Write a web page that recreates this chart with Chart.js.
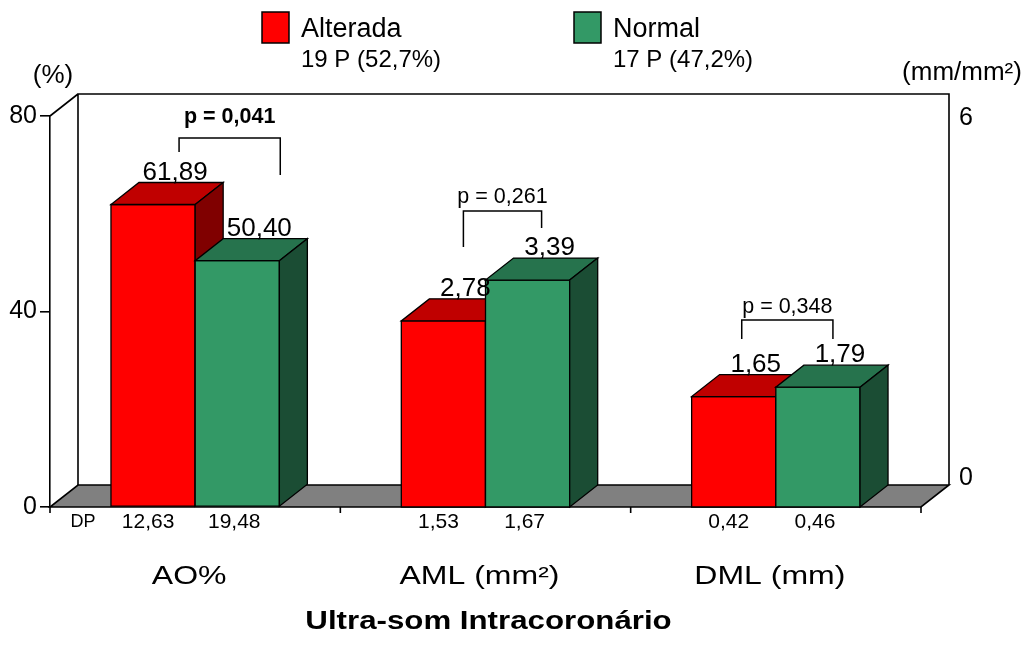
<!DOCTYPE html>
<html><head><meta charset="utf-8">
<script src="https://cdn.jsdelivr.net/npm/chart.js@4/dist/chart.umd.min.js"></script>
<style>html,body{margin:0;padding:0;background:#fff;overflow:hidden}#wrap{width:1032px;height:649px}</style>
</head><body><div id="wrap"><canvas id="c" width="1032" height="649"></canvas></div>
<script>
// ---------- data ----------
const categories = ['AO%', 'AML (mm²)', 'DML (mm)'];
const seriesNames = ['Alterada', 'Normal'];
const seriesCounts = ['19 P (52,7%)', '17 P (47,2%)'];
const alteradaPct = [61.89, null, null];
const normalPct = [50.40, null, null];
const alteradaMm = [null, 2.78, 1.65];
const normalMm = [null, 3.39, 1.79];
const dpAlterada = ['12,63', '1,53', '0,42'];
const dpNormal = ['19,48', '1,67', '0,46'];
const pValues = ['p = 0,041', 'p = 0,261', 'p = 0,348'];
const pBold = [true, false, false];
const leftTicks = [0, 40, 80];
const rightTickLabels = ['0', '6'];
const leftUnit = '(%)';
const rightUnit = '(mm/mm²)';
const title = 'Ultra-som Intracoronário';

// ---------- styles / layout ----------
const FONT = "'Liberation Sans', Arial, Helvetica, sans-serif";
const DX = 28, DY = -22;
const palette = [
  {front: '#FF0000', top: '#C00000', side: '#800000'},
  {front: '#339966', top: '#26734D', side: '#1B4D34'}
];
// bracket layout: x offsets relative to bar centers, y in pixels
const bracketLayout = [
  {o1: 26, o2: 43, top: 138, l: 152, r: 175, ty: 123},
  {o1: 20, o2: 14, top: 211, l: 247, r: 228, ty: 203},
  {o1: 8,  o2: 15, top: 320, l: 339, r: 339, ty: 313}
];

const fmt = v => v.toFixed(2).replace('.', ',');

function stretchText(ctx, text, x, y, sx) {
  ctx.save(); ctx.translate(x, y); ctx.scale(sx, 1);
  ctx.textAlign = 'center'; ctx.textBaseline = 'middle';
  ctx.fillText(text, 0, 0); ctx.restore();
}

function poly(ctx, pts, fill) {
  ctx.beginPath(); ctx.moveTo(pts[0][0], pts[0][1]);
  for (let k = 1; k < pts.length; k++) ctx.lineTo(pts[k][0], pts[k][1]);
  ctx.closePath(); ctx.fillStyle = fill; ctx.fill(); ctx.stroke();
}

const deco = {
  id: 'deco',
  beforeDatasetsDraw(chart) {
    const {ctx, chartArea: a} = chart;
    const xs = chart.scales.x;
    ctx.save();
    ctx.strokeStyle = '#000'; ctx.lineWidth = 1.6; ctx.lineJoin = 'miter';
    // back wall
    ctx.beginPath();
    ctx.moveTo(a.left + DX, a.bottom + DY); ctx.lineTo(a.left + DX, a.top + DY);
    ctx.lineTo(a.right + DX, a.top + DY); ctx.lineTo(a.right + DX, a.bottom + DY);
    ctx.moveTo(a.left, a.top); ctx.lineTo(a.left + DX, a.top + DY);
    ctx.stroke();
    // floor
    poly(ctx, [[a.left, a.bottom], [a.right, a.bottom], [a.right + DX, a.bottom + DY], [a.left + DX, a.bottom + DY]], '#808080');
    // floor ticks at category boundaries
    ctx.beginPath();
    for (let i = 0; i <= categories.length; i++) {
      const x = xs.getPixelForValue(i - 0.5);
      ctx.moveTo(x, a.bottom); ctx.lineTo(x, a.bottom + 6);
    }
    ctx.stroke();
    ctx.restore();
  },
  afterDatasetsDraw(chart) {
    const {ctx, chartArea: a} = chart;
    ctx.save();
    ctx.strokeStyle = '#000'; ctx.lineWidth = 1.3; ctx.lineJoin = 'miter';
    const bars = [];
    for (let i = 0; i < categories.length; i++) {
      const pair = [];
      for (let s = 0; s < 2; s++) {
        for (let d = s; d < chart.data.datasets.length; d += 2) {
          const v = chart.data.datasets[d].data[i];
          if (v === null || v === undefined) continue;
          const el = chart.getDatasetMeta(d).data[i];
          const p = el.getProps(['x', 'y', 'base', 'width'], true);
          pair[s] = {p, v};
          const L = p.x - p.width / 2, R = p.x + p.width / 2;
          const c = palette[s];
          poly(ctx, [[L, p.y], [R, p.y], [R, p.base], [L, p.base]], c.front);
          poly(ctx, [[L, p.y], [R, p.y], [R + DX, p.y + DY], [L + DX, p.y + DY]], c.top);
          poly(ctx, [[R, p.y], [R + DX, p.y + DY], [R + DX, p.base + DY], [R, p.base]], c.side);
        }
      }
      bars.push(pair);
    }
    // value labels
    ctx.fillStyle = '#000';
    ctx.font = '26px ' + FONT; ctx.textAlign = 'center'; ctx.textBaseline = 'alphabetic';
    bars.forEach(pair => pair.forEach(b => {
      ctx.fillText(fmt(b.v), b.p.x + 22, b.p.y + DY - 3);
    }));
    // DP row
    ctx.textBaseline = 'middle';
    ctx.font = '18px ' + FONT;
    ctx.fillText('DP', 83, a.bottom + 15);
    ctx.font = '21px ' + FONT;
    bars.forEach((pair, i) => {
      ctx.fillText(dpAlterada[i], pair[0].p.x - 5, a.bottom + 15);
      ctx.fillText(dpNormal[i], pair[1].p.x - 3, a.bottom + 15);
    });
    // p-value brackets
    ctx.lineWidth = 1.5;
    bars.forEach((pair, i) => {
      const bl = bracketLayout[i];
      const x1 = pair[0].p.x + bl.o1, x2 = pair[1].p.x + bl.o2;
      ctx.beginPath();
      ctx.moveTo(x1, bl.l); ctx.lineTo(x1, bl.top); ctx.lineTo(x2, bl.top); ctx.lineTo(x2, bl.r);
      ctx.stroke();
      ctx.font = (pBold[i] ? 'bold ' : '') + '21.5px ' + FONT;
      ctx.textBaseline = 'alphabetic';
      ctx.fillText(pValues[i], (x1 + x2) / 2, bl.ty);
    });
    ctx.restore();
  },
  afterDraw(chart) {
    const {ctx, chartArea: a} = chart;
    const xs = chart.scales.x;
    ctx.save();
    ctx.fillStyle = '#000';
    // units
    ctx.textAlign = 'center'; ctx.textBaseline = 'middle';
    ctx.font = '26px ' + FONT;
    ctx.fillText(leftUnit, 53, 76);
    ctx.font = '26px ' + FONT;
    ctx.fillText(rightUnit, 962, 73);
    // right axis labels
    ctx.textAlign = 'left'; ctx.font = '25px ' + FONT;
    ctx.fillText(rightTickLabels[1], a.right + DX + 10, a.top + 2);
    ctx.fillText(rightTickLabels[0], a.right + DX + 10, a.bottom - 29);
    // category labels (stretched)
    ctx.font = '25px ' + FONT;
    categories.forEach((c, i) => stretchText(ctx, c, xs.getPixelForValue(i) - 6, 577, 1.28));
    // title
    ctx.font = 'bold 25px ' + FONT;
    stretchText(ctx, title, (a.left + a.right) / 2 + 3, 622, 1.25);
    // legend
    const lx = [262, 574];
    ctx.strokeStyle = '#000'; ctx.lineWidth = 1.5;
    for (let s = 0; s < 2; s++) {
      ctx.fillStyle = palette[s].front;
      ctx.fillRect(lx[s], 12, 27, 31); ctx.strokeRect(lx[s], 12, 27, 31);
      ctx.fillStyle = '#000'; ctx.textAlign = 'left'; ctx.textBaseline = 'alphabetic';
      ctx.font = '27px ' + FONT; ctx.fillText(seriesNames[s], lx[s] + 39, 37);
      ctx.font = '24px ' + FONT; ctx.fillText(seriesCounts[s], lx[s] + 39, 67);
    }
    ctx.restore();
  }
};

new Chart(document.getElementById('c'), {
  type: 'bar',
  data: {
    labels: categories,
    datasets: [
      {label: seriesNames[0], data: alteradaPct, yAxisID: 'y', stack: 'alt', backgroundColor: palette[0].front, borderColor: '#000', borderWidth: 1},
      {label: seriesNames[1], data: normalPct, yAxisID: 'y', stack: 'nor', backgroundColor: palette[1].front, borderColor: '#000', borderWidth: 1},
      {label: seriesNames[0], data: alteradaMm, yAxisID: 'y2', stack: 'alt', backgroundColor: palette[0].front, borderColor: '#000', borderWidth: 1},
      {label: seriesNames[1], data: normalMm, yAxisID: 'y2', stack: 'nor', backgroundColor: palette[1].front, borderColor: '#000', borderWidth: 1}
    ]
  },
  options: {
    responsive: false, animation: false, devicePixelRatio: 1,
    categoryPercentage: 0.58, barPercentage: 1,
    layout: {padding: {left: 0, right: 111, top: 116, bottom: 142}},
    plugins: {legend: {display: false}, tooltip: {enabled: false}},
    scales: {
      x: {display: false},
      y: {
        position: 'left', min: 0, max: 80, stacked: false,
        afterBuildTicks: s => { s.ticks = leftTicks.map(v => ({value: v})); },
        afterFit: s => { s.width = 50; },
        ticks: {color: '#000', font: {family: FONT, size: 25}, padding: 3},
        grid: {drawOnChartArea: false, drawTicks: true, tickLength: 10, color: '#000', lineWidth: 1.6},
        border: {display: true, color: '#000', width: 1.6}
      },
      y2: {display: false, position: 'right', min: 0, max: 5.84, stacked: false}
    }
  },
  plugins: [deco]
});
</script>
</body></html>
